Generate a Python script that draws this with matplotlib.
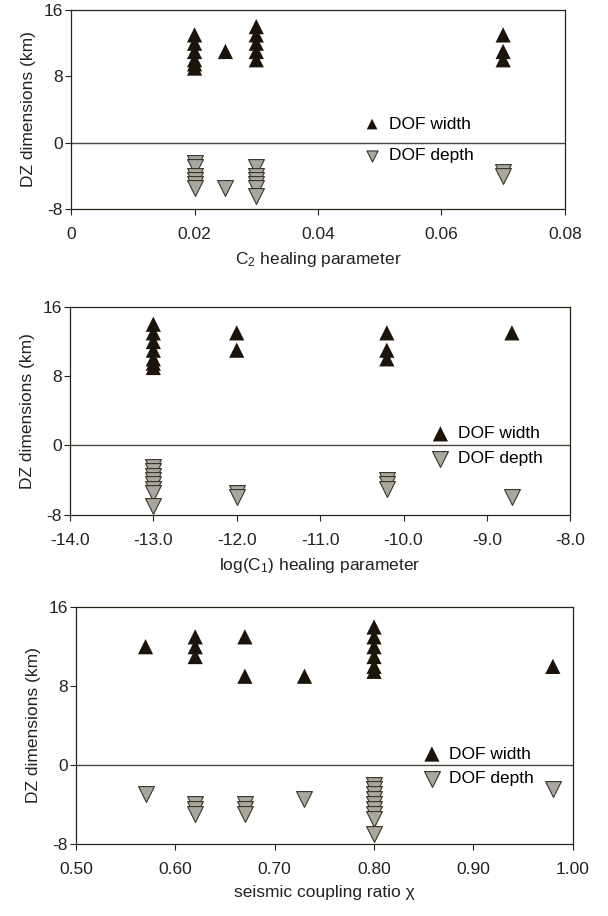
#imports all required libs
import matplotlib
matplotlib.use('Agg')
import matplotlib.pyplot as plt

plt.rcParams['font.family'] = ['Liberation Sans', 'DejaVu Sans']
plt.rcParams['mathtext.default'] = 'regular'
plt.rcParams['axes.unicode_minus'] = False

#panel 1 - C2 healing parameter
c2_w_x = [0.02, 0.02, 0.02, 0.02, 0.02, 0.02, 0.025, 0.03, 0.03, 0.03, 0.03, 0.03, 0.07, 0.07, 0.07]
c2_w_y = [13, 12, 11, 10, 9.5, 9, 11, 14, 13, 12, 11, 10, 13, 11, 10]
c2_d_x = [0.02, 0.02, 0.02, 0.02, 0.02, 0.02, 0.025, 0.03, 0.03, 0.03, 0.03, 0.03, 0.03, 0.07, 0.07]
c2_d_y = [-2.5, -3, -4, -4.5, -5, -5.5, -5.5, -3, -4, -4.5, -5, -5.5, -6.5, -3.5, -4]

#panel 2 - log(C1) healing parameter
c1_w_x = [-13, -13, -13, -13, -13, -13, -13, -12, -12, -10.2, -10.2, -10.2, -8.7]
c1_w_y = [14, 13, 12, 11, 10, 9.5, 9, 13, 11, 13, 11, 10, 13]
c1_d_x = [-13, -13, -13, -13, -13, -13, -13, -13, -12, -12, -10.2, -10.2, -10.2, -8.7]
c1_d_y = [-2.5, -3, -3.5, -4, -4.5, -5, -5.5, -7, -5.5, -6, -4, -4.5, -5, -6]

#panel 3 - seismic coupling ratio
chi_w_x = [0.57, 0.62, 0.62, 0.62, 0.67, 0.67, 0.73, 0.8, 0.8, 0.8, 0.8, 0.8, 0.8, 0.98]
chi_w_y = [12, 13, 12, 11, 13, 9, 9, 14, 13, 12, 11, 10, 9.5, 10]
chi_d_x = [0.57, 0.62, 0.62, 0.62, 0.67, 0.67, 0.67, 0.73, 0.8, 0.8, 0.8, 0.8, 0.8, 0.8, 0.8, 0.8, 0.8, 0.98]
chi_d_y = [-3, -4, -4.5, -5, -4, -4.5, -5, -3.5, -2, -2.5, -3, -3.5, -4, -4.5, -5, -5.5, -7, -2.5]

w_color = '#1c140a'
d_color = '#a9a89f'
edge = '#3a3428'
txt = '#222222'

fig = plt.figure(figsize=(6.08, 9.16), dpi=100)

# rect, data, xlim, ticks, labels, xlabel, legend anchor, legend spacing, legend marker scale
panels = [
    ([0.117, 0.772, 0.812, 0.217], c2_w_x, c2_w_y, c2_d_x, c2_d_y,
     (0, 0.08), [0, 0.02, 0.04, 0.06, 0.08], ['0', '0.02', '0.04', '0.06', '0.08'],
     'C$_2$ healing parameter', (0.592, 0.347), 0.95, 0.7),
    ([0.115, 0.438, 0.823, 0.227], c1_w_x, c1_w_y, c1_d_x, c1_d_y,
     (-14, -8), [-14, -13, -12, -11, -10, -9, -8],
     ['-14.0', '-13.0', '-12.0', '-11.0', '-10.0', '-9.0', '-8.0'],
     'log(C$_1$) healing parameter', (0.723, 0.33), 0.55, 1.0),
    ([0.125, 0.079, 0.817, 0.258], chi_w_x, chi_w_y, chi_d_x, chi_d_y,
     (0.5, 1.0), [0.5, 0.6, 0.7, 0.8, 0.9, 1.0],
     ['0.50', '0.60', '0.70', '0.80', '0.90', '1.00'],
     'seismic coupling ratio \u03c7', (0.699, 0.327), 0.55, 1.0),
]

for rect, wx, wy, dx, dy, xlim, xt, xtl, xlabel, leg_pos, leg_sp, leg_ms in panels:
    ax = fig.add_axes(rect)
    ax.axhline(0, color='#4a463c', lw=1.0, zorder=1)
    ax.scatter(wx, wy, marker='^', s=120, c=w_color, edgecolors='none', zorder=3, label='DOF width')
    ax.scatter(dx, dy, marker='v', s=130, c=d_color, edgecolors=edge, linewidths=0.8, zorder=3, label='DOF depth')
    ax.set_xlim(*xlim)
    ax.set_ylim(-8, 16)
    ax.set_xticks(xt)
    ax.set_xticklabels(xtl)
    ax.set_yticks([-8, 0, 8, 16])
    ax.tick_params(direction='out', length=4, width=0.8, labelsize=12.5, colors=txt)
    ax.tick_params(axis='x', pad=9)
    ax.tick_params(axis='y', pad=2)
    for s in ax.spines.values():
        s.set_color('#2a2418')
        s.set_linewidth(0.9)
    ax.set_xlabel(xlabel, fontsize=12.5, color=txt, labelpad=6)
    ax.set_ylabel('DZ dimensions (km)', fontsize=12.5, color=txt, labelpad=5)
    ax.legend(loc='center left', bbox_to_anchor=leg_pos, frameon=False, fontsize=12.5,
              handlelength=1.0, handletextpad=0.5, labelspacing=leg_sp,
              markerscale=leg_ms, borderaxespad=0, borderpad=0)

plt.savefig('out.png', dpi=100)
